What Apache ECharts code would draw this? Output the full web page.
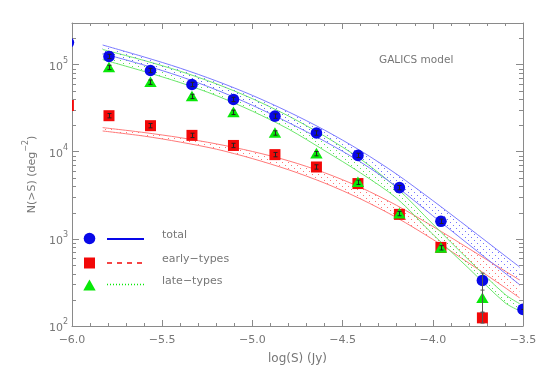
<!DOCTYPE html>
<html><head><meta charset="utf-8">
<script src="https://cdn.jsdelivr.net/npm/echarts@6/dist/echarts.min.js"></script>
<style>html,body{margin:0;padding:0;background:#fff}#c{width:545px;height:372px}</style>
</head><body><div id="c"></div>
<script>
// ---- data ----
const xTickLabels = ['\u22126.0','\u22125.5','\u22125.0','\u22124.5','\u22124.0','\u22123.5'];
const logS = [-6.02, -5.795, -5.565, -5.335, -5.105, -4.875, -4.645, -4.415, -4.185, -3.955, -3.725, -3.50];
const totalN = [179000, 124000, 85500, 59100, 39800, 25600, 16400, 9070, 3870, 1590, 333, 155];
const earlyN = [34000, 25900, 19900, 15400, 11800, 9260, 6680, 4310, 1910, 798, 124, null];
const lateN  = [null, 92700, 62800, 43100, 28300, 16400, 9500, 4460, 1950, 789, 208, null];
// error bars in dex (down, up)
const totalErrDn = [0.025,0.025,0.025,0.025,0.025,0.025,0.025,0.025,0.025,0.025,0.22,0];
const totalErrUp = [0.025,0.025,0.025,0.025,0.025,0.025,0.025,0.025,0.025,0.025,0.084,0];
const earlyErrDn = [0.025,0.025,0.025,0.025,0.025,0.025,0.025,0.025,0.025,0.025,0.06,0];
const earlyErrUp = [0.025,0.025,0.025,0.025,0.025,0.025,0.025,0.025,0.025,0.025,0.06,0];
const lateErrDn  = [0,0.025,0.025,0.025,0.025,0.025,0.025,0.025,0.025,0.025,0.158,0];
const lateErrUp  = [0,0.025,0.025,0.025,0.025,0.025,0.025,0.025,0.025,0.025,0.094,0];
// model bands
const bandX = [-5.83, -5.6, -5.4, -5.2, -5.0, -4.8, -4.6, -4.4, -4.2, -4.0, -3.8, -3.6, -3.52];
const totalUpper = [167700, 122200, 90900, 64900, 44300, 28700, 17700, 10250, 5520, 2750, 1334, 640, 478];
const totalLower = [134000, 98600, 73100, 51300, 34100, 21600, 13200, 7600, 3950, 1840, 859, 405, 300];
const earlyUpper = [18900, 16600, 14500, 12300, 10070, 7870, 5740, 3890, 2420, 1390, 773, 428, 338];
const earlyLower = [17300, 15100, 12900, 10700, 8340, 6210, 4370, 2870, 1750, 986, 527, 276, 211];
const lateUpper  = [149000, 111400, 83800, 60100, 40600, 25700, 15100, 8220, 3840, 1480, 571, 231, 181];
const lateLower  = [114000, 83400, 62100, 44100, 29200, 18200, 10300, 5700, 2920, 1130, 457, 185, 150];
const legendLabels = ['total', 'early\u2212types', 'late\u2212types'];
const titleText = 'GALICS model';

// ---- styling ----
const AX = '#8a8a8a', TXT = '#777';
const BLUE = '#0808e8', RED = '#f20808', GREEN = '#08e808';
const FONT = 'DejaVu Sans';

function makePattern(color){
  const c = document.createElement('canvas'); c.width = 6; c.height = 6;
  const g = c.getContext('2d'); g.fillStyle = color;
  g.fillRect(0,0,1,1); g.fillRect(3,3,1,1);
  return {image: c, repeat: 'repeat'};
}

function bandSeries(upper, lower, lineColor, dotColor){
  const pat = makePattern(dotColor);
  return {
    type: 'custom', clip: true, silent: true, z: 2,
    data: [[bandX[0], upper[0]]],
    renderItem: function(params, api){
      const up = bandX.map((x,i)=>api.coord([x, upper[i]]));
      const lo = bandX.map((x,i)=>api.coord([x, lower[i]]));
      return {type:'group', children:[
        {type:'polygon', shape:{points: up.concat(lo.slice().reverse())}, style:{fill: pat, stroke: null}},
        {type:'polyline', shape:{points: up, smooth: 0.3}, style:{stroke: lineColor, lineWidth: 1, fill: null}},
        {type:'polyline', shape:{points: lo, smooth: 0.3}, style:{stroke: lineColor, lineWidth: 1, fill: null}}
      ]};
    }
  };
}

function markerSeries(shape, color, ys, dn, up, z){
  const data = [];
  logS.forEach((x,i)=>{ if (ys[i] != null) data.push([x, ys[i], ys[i]/Math.pow(10, dn[i]), ys[i]*Math.pow(10, up[i])]); });
  return {
    type: 'custom', clip: true, silent: true, z: z, data: data,
    renderItem: function(params, api){
      const p = api.coord([api.value(0), api.value(1)]);
      const pl = api.coord([api.value(0), api.value(2)]);
      const ph = api.coord([api.value(0), api.value(3)]);
      let sym;
      if (shape === 'circle') sym = {type:'circle', shape:{cx:p[0], cy:p[1], r:5.8}, style:{fill:color}};
      else if (shape === 'rect') sym = {type:'rect', shape:{x:p[0]-5.5, y:p[1]-5.5, width:11, height:11}, style:{fill:color}};
      else sym = {type:'polygon', shape:{points:[[p[0], p[1]-5.8],[p[0]+6.2, p[1]+4.8],[p[0]-6.2, p[1]+4.8]]}, style:{fill:color}};
      const xc = Math.round(p[0]) + 0.5;
      const big = (ph[1]-pl[1]) < -10;
      const ec = big ? '#555' : '#222';
      const children = [sym,
        {type:'line', shape:{x1:xc, y1:pl[1], x2:xc, y2:ph[1]}, style:{stroke:ec, lineWidth:1}},
        {type:'line', shape:{x1:xc-2, y1:ph[1], x2:xc+2, y2:ph[1]}, style:{stroke:ec, lineWidth:1}},
        {type:'line', shape:{x1:xc-2, y1:pl[1], x2:xc+2, y2:pl[1]}, style:{stroke:ec, lineWidth:1}}
      ];
      return {type:'group', children: children};
    }
  };
}

// minor log ticks (axis decoration)
const minorVals = [];
[100, 1000, 10000, 100000].forEach(d => { for (let m = 2; m <= 9; m++) { if (d*m < 300000) minorVals.push(d*m); } });

const chart = echarts.init(document.getElementById('c'), null, {renderer: 'canvas'});
const xAxisBase = {
  type: 'value', min: -6, max: -3.5, interval: 0.5,
  axisLine: {show: true, onZero: false, lineStyle: {color: AX, width: 1}},
  axisTick: {show: true, inside: true, length: 6, lineStyle: {color: AX}},
  minorTick: {show: true, splitNumber: 5, length: 3, lineStyle: {color: AX}},
  splitLine: {show: false}
};
const yAxisBase = {
  type: 'log', logBase: 10, min: 100, max: 300000,
  axisLine: {show: true, onZero: false, lineStyle: {color: AX, width: 1}},
  axisTick: {show: true, inside: true, length: 7, lineStyle: {color: AX}},
  splitLine: {show: false}
};

chart.setOption({
  animation: false,
  backgroundColor: '#fff',
  grid: {left: 72, right: 22, top: 23, bottom: 46, containLabel: false},
  xAxis: [
    Object.assign({}, xAxisBase, {
      position: 'bottom',
      name: 'log(S) (Jy)', nameLocation: 'middle', nameGap: 27,
      nameTextStyle: {color: TXT, fontFamily: FONT, fontSize: 12},
      axisLabel: {color: TXT, fontFamily: FONT, fontSize: 11, margin: 9,
        formatter: v => xTickLabels[Math.round((v + 6) / 0.5)] || ''}
    }),
    Object.assign({}, xAxisBase, {position: 'top', axisLabel: {show: false}})
  ],
  yAxis: [
    Object.assign({}, yAxisBase, {
      position: 'left',
      name: '{a|N(>S) (deg}{s|\u22122}{a|)}', nameLocation: 'middle', nameGap: 33, nameRotate: 90,
      nameTextStyle: {rich: {
        a: {color: TXT, fontFamily: FONT, fontSize: 11, lineHeight: 16, verticalAlign: 'bottom'},
        s: {color: TXT, fontFamily: FONT, fontSize: 8, lineHeight: 16, verticalAlign: 'top'}
      }},
      axisLabel: {margin: 4, showMaxLabel: false,
        formatter: v => { const e = Math.log10(v); const r = Math.round(e);
          if (Math.abs(e - r) > 1e-6) return ''; return '{b|10}{e|' + r + '}'; },
        rich: {
          b: {color: TXT, fontFamily: FONT, fontSize: 11, lineHeight: 16, verticalAlign: 'bottom'},
          e: {color: TXT, fontFamily: FONT, fontSize: 8, lineHeight: 16, verticalAlign: 'top'}
        }}
    }),
    Object.assign({}, yAxisBase, {position: 'right', axisLabel: {show: false}})
  ],
  graphic: [
    {type: 'text', left: 379, top: 55, style: {text: titleText, fill: TXT, font: '10.5px "' + FONT + '"'}},
    // legend
    {type: 'circle', shape: {cx: 89.5, cy: 238.5, r: 5.8}, style: {fill: BLUE}},
    {type: 'rect', shape: {x: 84, y: 257.5, width: 11, height: 11}, style: {fill: RED}},
    {type: 'polygon', shape: {points: [[89.5, 279.5], [95.7, 290.5], [83.3, 290.5]]}, style: {fill: GREEN}},
    {type: 'line', shape: {x1: 107, y1: 239, x2: 144, y2: 239}, style: {stroke: BLUE, lineWidth: 2}},
    {type: 'line', shape: {x1: 107, y1: 263, x2: 144, y2: 263}, style: {stroke: RED, lineWidth: 1.5, lineDash: [5, 5]}},
    {type: 'line', shape: {x1: 107, y1: 284.5, x2: 144, y2: 284.5}, style: {stroke: GREEN, lineWidth: 1.5, lineDash: [1, 2]}},
    {type: 'text', left: 162, top: 230, style: {text: legendLabels[0], fill: TXT, font: '11px "' + FONT + '"'}},
    {type: 'text', left: 162, top: 254, style: {text: legendLabels[1], fill: TXT, font: '11px "' + FONT + '"'}},
    {type: 'text', left: 162, top: 276, style: {text: legendLabels[2], fill: TXT, font: '11px "' + FONT + '"'}}
  ],
  series: [
    bandSeries(earlyUpper, earlyLower, '#ff7a7a', 'rgba(255,90,90,0.85)'),
    bandSeries(lateUpper, lateLower, '#6ee86e', 'rgba(60,220,60,0.85)'),
    bandSeries(totalUpper, totalLower, '#7b7bff', 'rgba(90,90,255,0.85)'),
    {
      type: 'custom', clip: false, silent: true, z: 1,
      data: minorVals.map(v => [-6, v]),
      renderItem: function(params, api){
        const l = api.coord([-6, api.value(1)]);
        const r = api.coord([-3.5, api.value(1)]);
        const y = Math.round(l[1]) + 0.5;
        return {type:'group', children:[
          {type:'line', shape:{x1:l[0], y1:y, x2:l[0]+4, y2:y}, style:{stroke:AX, lineWidth:1}},
          {type:'line', shape:{x1:r[0], y1:y, x2:r[0]-4, y2:y}, style:{stroke:AX, lineWidth:1}}
        ]};
      }
    },
    markerSeries('rect', RED, earlyN, earlyErrDn, earlyErrUp, 5),
    markerSeries('circle', BLUE, totalN, totalErrDn, totalErrUp, 6),
    markerSeries('tri', GREEN, lateN, lateErrDn, lateErrUp, 7)
  ]
});
</script>
</body></html>
